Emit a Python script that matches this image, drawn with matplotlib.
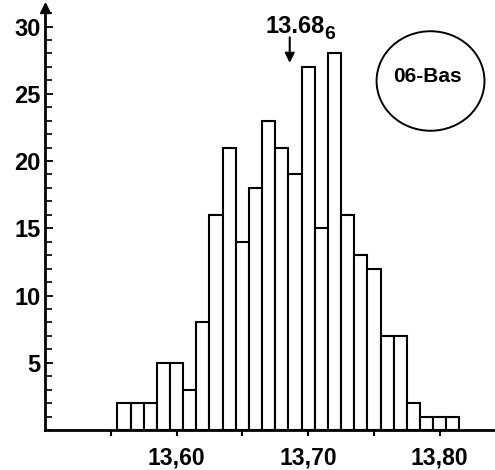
import matplotlib
matplotlib.use("Agg")
import matplotlib.pyplot as plt
from matplotlib.patches import Ellipse
from matplotlib.ticker import FixedLocator, MultipleLocator

# ---- data ----
bin_centers = [13.56, 13.57, 13.58, 13.59, 13.60, 13.61, 13.62, 13.63, 13.64,
               13.65, 13.66, 13.67, 13.68, 13.69, 13.70, 13.71, 13.72, 13.73,
               13.74, 13.75, 13.76, 13.77, 13.78, 13.79, 13.80, 13.81]
counts = [2, 2, 2, 5, 5, 3, 8, 16, 21, 14, 18, 23, 21, 19, 27, 15, 28, 16,
          13, 12, 7, 7, 2, 1, 1, 1]
bin_width = 0.01
mean_value = 13.686
mean_label_main = "13.68"
mean_label_sub = "6"
x_tick_pos = [13.55, 13.60, 13.65, 13.70, 13.75, 13.80]
x_tick_labels = ["", "13,60", "", "13,70", "", "13,80"]
y_tick_pos = [5, 10, 15, 20, 25, 30]
y_tick_labels = ["5", "10", "15", "20", "25", "30"]
badge_text = "06-Bas"

plt.rcParams['font.family'] = ['Liberation Sans', 'DejaVu Sans']

fig = plt.figure(figsize=(4.95, 4.7), dpi=100)
ax = fig.add_axes([45/495, 40/470, 450/495, 425/470])
ax.set_xlim(13.50, 13.842)
ax.set_ylim(0, 31.6)

ax.bar(bin_centers, counts, width=bin_width, color='white',
       edgecolor='black', linewidth=1.5, align='center', zorder=2)

for s in ['top', 'right']:
    ax.spines[s].set_visible(False)
for s in ['left', 'bottom']:
    ax.spines[s].set_linewidth(2.0)
    ax.spines[s].set_zorder(3)

# arrowhead on y axis
ax.plot([13.50], [31.35], marker='^', color='black', markersize=7,
        clip_on=False, zorder=4)

ax.xaxis.set_major_locator(FixedLocator(x_tick_pos))
ax.set_xticklabels(x_tick_labels, fontsize=16.5, fontweight='bold')
ax.tick_params(axis='x', direction='out', length=4, width=1.5, pad=8)

ax.yaxis.set_major_locator(FixedLocator(y_tick_pos))
ax.yaxis.set_minor_locator(MultipleLocator(1))
ax.set_yticklabels(y_tick_labels, fontsize=17, fontweight='bold')
ax.tick_params(axis='y', which='major', direction='in', length=6, width=1.3, pad=3)
ax.tick_params(axis='y', which='minor', direction='in', length=5, width=1.2)

# mean annotation
ax.annotate("", xy=(mean_value, 27.3), xytext=(mean_value, 29.2),
            arrowprops=dict(arrowstyle='-|>', color='black', lw=1.5,
                            mutation_scale=14, shrinkA=0, shrinkB=0))
ax.text(mean_value - 0.0185, 29.5, mean_label_main, ha='left', va='baseline',
        fontsize=17, fontweight='bold')
ax.text(mean_value + 0.0265, 29.1, mean_label_sub, ha='left', va='baseline',
        fontsize=14, fontweight='bold')

# badge
ell = Ellipse((13.793, 25.95), width=0.082, height=7.4, fill=False,
              edgecolor='black', linewidth=1.4, clip_on=False)
ax.add_patch(ell)
ax.text(13.791, 26.3, badge_text, ha='center', va='center', fontsize=15,
        fontweight='bold')

fig.savefig("out.png", dpi=100)
